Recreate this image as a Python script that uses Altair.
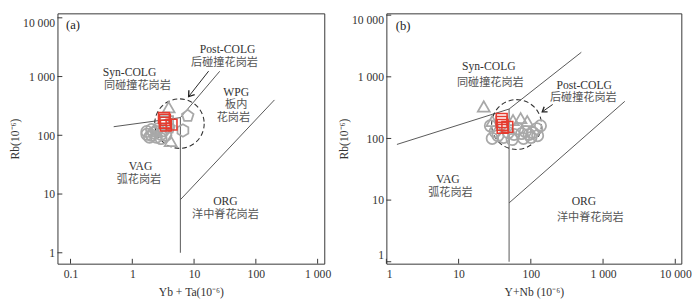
import altair as alt
import pandas as pd

# ---------------- Panel (a): Rb vs Yb+Ta ----------------
a_xticks = [0.1, 1, 10, 100, 1000]
a_yticks = [1, 10, 100, 1000, 10000]

a_bound_x1 = [0.5, 6, 6, 6]
a_bound_y1 = [140, 200, 200, 8]
a_bound_x2 = [6, 26, 6, 200]
a_bound_y2 = [200, 1230, 1, 400]

a_gray_x = [3.88, 4.17, 7.9, 3.93, 6.6, 3.6,
            1.72, 1.72, 2.05, 2.05, 2.45, 2.45, 2.92, 2.92, 3.49, 1.9, 2.2, 2.6, 3.2]
a_gray_y = [300, 80, 214, 135, 121, 165,
            116, 104, 125, 100, 116, 93, 104, 88, 100, 93, 110, 128, 120]
a_gray_kind = ["tri_big", "tri_big", "pent", "pent", "hex", "sq",
               "circ", "circ", "circ", "circ", "circ", "circ", "circ", "circ",
               "circ", "circ", "circ", "circ", "circ"]

a_red_x = [3.37, 3.37, 3.49, 4.32, 3.25]
a_red_y = [184, 164, 146, 152, 198]

a_field_x = [5.8]
a_field_y = [158]
a_arrow_x1, a_arrow_y1, a_arrow_x2, a_arrow_y2 = [17.2], [1236], [8.17], [456]

a_label_text = ["Syn-COLG", "同碰撞花岗岩", "Post-COLG", "后碰撞花岗岩", "WPG", "板内", "花岗岩",
                "VAG", "弧花岗岩", "ORG", "洋中脊花岗岩"]
a_label_x = [0.90, 1.21, 34.9, 31.1, 48.0, 48.0, 43.2, 1.36, 1.28, 32.2, 32.2]
a_label_y = [1208, 684, 2925, 1702, 535, 328, 200, 29.5, 17.3, 7.5, 4.4]

# ---------------- Panel (b): Rb vs Y+Nb ----------------
b_xticks = [1, 10, 100, 1000, 10000]
b_yticks = [1, 10, 100, 1000, 10000]

b_bound_x1 = [1.4, 50, 50, 50]
b_bound_y1 = [80, 300, 300, 9]
b_bound_x2 = [50, 500, 50, 2000]
b_bound_y2 = [300, 2500, 1, 400]

b_gray_x = [22.3, 29.2, 56.7, 72.2, 89.2,
            27.5, 32.0, 29.2, 35.0, 48.8, 58.5, 65.9, 74.4, 84.0, 94.7, 106.9,
            120.6, 136.0, 100.6, 79.1, 55.1, 42.0, 124.2]
b_gray_y = [331, 192, 199, 214, 192,
            160, 129, 100, 111, 124, 116, 144, 120, 129, 116, 124,
            144, 160, 104, 100, 96, 104, 111]
b_gray_kind = ["tri_big", "tri", "tri", "tri", "tri"] + ["circ"] * 18

b_red_x = [39.5, 39.5, 40.7, 47.3, 40.7]
b_red_y = [207, 185, 166, 154, 149]

b_field_x = [63.4]
b_field_y = [168]
b_arrow_x1, b_arrow_y1, b_arrow_x2, b_arrow_y2 = [201], [356], [144], [271]

b_label_text = ["Syn-COLG", "同碰撞花岗岩", "Post-COLG", "后碰撞花岗岩",
                "VAG", "弧花岗岩", "ORG", "洋中脊花岗岩"]
b_label_x = [26.2, 27.5, 549, 533, 7.1, 7.7, 544, 666]
b_label_y = [1480, 800, 740, 445, 22, 12.8, 9.5, 5.2]

# ---------------- styling ----------------
FONT_EN = "Liberation Serif"
FONT_ZH = "Noto Sans CJK SC"
KINDS = ["circ", "tri", "tri_big", "pent", "hex", "sq"]
PENT = "M0,-1L0.951,-0.309L0.588,0.809L-0.588,0.809L-0.951,-0.309Z"
HEX = "M0,-1L0.866,-0.5L0.866,0.5L0,1L-0.866,0.5L-0.866,-0.5Z"
SHAPES = ["circle", "triangle-up", "triangle-up", PENT, HEX, "square"]
SIZES = [135, 175, 300, 240, 210, 130]
HEAD_A = "M0.035,-1L0,0L0.951,-0.309"
HEAD_B = "M0.358,-0.934L0,0L1,0.017"
LAB = "replace(format(datum.value, ','), ',', ' ')"


def is_zh(s):
    return any(ord(c) > 0x2E80 for c in s)


def panel(W, H, xdom, ydom, xticks, yticks, xtitle, ytitle,
          bx1, by1, bx2, by2, gx, gy, gk, rx, ry, fx, fy, fsize,
          ax1, ay1, ax2, ay2, head, head_size, ltext, lx, ly, tag, tagx, tagy):
    xs = alt.Scale(type="log", domain=xdom, nice=False)
    ys = alt.Scale(type="log", domain=ydom, nice=False)
    xax = alt.Axis(values=xticks, labelExpr=LAB, ticks=False, tickSize=0, domain=False,
                   grid=False, labelFont=FONT_EN, labelFontSize=12, labelColor="#333",
                   labelPadding=5, title=xtitle, titleFont=FONT_EN, titleFontSize=12,
                   titleFontWeight="normal", titleColor="#333", titlePadding=8)
    yax = alt.Axis(values=yticks, labelExpr=LAB, ticks=False, tickSize=0, domain=False,
                   grid=False, labelFont=FONT_EN, labelFontSize=12, labelColor="#333",
                   labelPadding=3, labelFlush=6, labelFlushOffset=0,
                   title=ytitle, titleFont=FONT_EN, titleFontSize=12,
                   titleFontWeight="normal", titleColor="#333", titlePadding=1)

    def X(f):
        return alt.X(f, type="quantitative", scale=xs, axis=xax)

    def Y(f):
        return alt.Y(f, type="quantitative", scale=ys, axis=yax)

    bounds = pd.DataFrame({"x1": bx1, "y1": by1, "x2": bx2, "y2": by2})
    l_bounds = alt.Chart(bounds).mark_rule(color="#555", strokeWidth=1).encode(
        x=X("x1"), y=Y("y1"), x2="x2", y2="y2")

    l_yt = alt.Chart(pd.DataFrame({"v": yticks})).mark_rule(color="#333").encode(
        y=Y("v"), x=alt.value(0), x2=alt.value(5))
    l_xt = alt.Chart(pd.DataFrame({"v": xticks})).mark_rule(color="#333").encode(
        x=X("v"), y=alt.value(H), y2=alt.value(H - 5))

    l_field = alt.Chart(pd.DataFrame({"x": fx, "y": fy})).mark_point(
        shape="circle", filled=False, size=fsize, color="#333", strokeDash=[5, 3],
        strokeWidth=1.1, opacity=1).encode(x=X("x"), y=Y("y"))

    gray = pd.DataFrame({"x": gx, "y": gy, "k": gk})
    l_gray = alt.Chart(gray).mark_point(filled=False, color="#a8a8a8", strokeWidth=1.8,
                                         opacity=1).encode(
        x=X("x"), y=Y("y"),
        shape=alt.Shape("k:N", scale=alt.Scale(domain=KINDS, range=SHAPES), legend=None),
        size=alt.Size("k:N", scale=alt.Scale(domain=KINDS, range=SIZES), legend=None))

    l_red = alt.Chart(pd.DataFrame({"x": rx, "y": ry})).mark_point(
        shape="square", filled=False, size=125, color="#e53b2f", strokeWidth=1.6,
        opacity=1).encode(x=X("x"), y=Y("y"))

    arrow = pd.DataFrame({"x1": ax1, "y1": ay1, "x2": ax2, "y2": ay2})
    l_arrow = alt.Chart(arrow).mark_rule(color="#222", strokeWidth=1).encode(
        x=X("x1"), y=Y("y1"), x2="x2", y2="y2")
    l_head = alt.Chart(arrow).mark_point(shape=head, filled=False, size=head_size,
                                         color="#222", strokeWidth=1.4, opacity=1).encode(
        x=X("x2"), y=Y("y2"))

    labels = pd.DataFrame({"t": ltext, "x": lx, "y": ly})
    labels["zh"] = labels["t"].map(is_zh)
    l_en = alt.Chart(labels[~labels["zh"]]).mark_text(
        font=FONT_EN, fontSize=12, color="#333", baseline="middle").encode(
        x=X("x"), y=Y("y"), text="t:N")
    l_zh = alt.Chart(labels[labels["zh"]]).mark_text(
        font=FONT_ZH, fontSize=11.5, color="#555", baseline="middle").encode(
        x=X("x"), y=Y("y"), text="t:N")
    l_tag = alt.Chart(pd.DataFrame({"t": [tag], "x": [tagx], "y": [tagy]})).mark_text(
        font=FONT_EN, fontSize=13, color="#222", align="left", baseline="middle").encode(
        x=X("x"), y=Y("y"), text="t:N")

    return alt.layer(l_bounds, l_yt, l_xt, l_field, l_gray, l_red, l_arrow, l_head,
                     l_en, l_zh, l_tag).properties(width=W, height=H)


pa = panel(275, 258, [0.0615, 1282], [0.652, 11910], a_xticks, a_yticks,
           "Yb + Ta(10⁻⁶)", "Rb(10⁻⁶)",
           a_bound_x1, a_bound_y1, a_bound_x2, a_bound_y2,
           a_gray_x, a_gray_y, a_gray_kind, a_red_x, a_red_y,
           a_field_x, a_field_y, 2600,
           a_arrow_x1, a_arrow_y1, a_arrow_x2, a_arrow_y2, HEAD_A, 170,
           a_label_text, a_label_x, a_label_y, "(a)", 0.0847, 7550)

pb = panel(304, 258, [1, 12130], [0.93, 10700], b_xticks, b_yticks,
           "Y+Nb (10⁻⁶)", "Rb(10⁻⁶)",
           b_bound_x1, b_bound_y1, b_bound_x2, b_bound_y2,
           b_gray_x, b_gray_y, b_gray_kind, b_red_x, b_red_y,
           b_field_x, b_field_y, 2640,
           b_arrow_x1, b_arrow_y1, b_arrow_x2, b_arrow_y2, HEAD_B, 120,
           b_label_text, b_label_x, b_label_y, "(b)", 1.35, 6713)

chart = alt.hconcat(pa, pb, spacing=5).properties(padding=0).configure_view(
    stroke="#333", strokeWidth=1)

chart.save("out.html", embed_options={"renderer": "svg", "actions": False})
